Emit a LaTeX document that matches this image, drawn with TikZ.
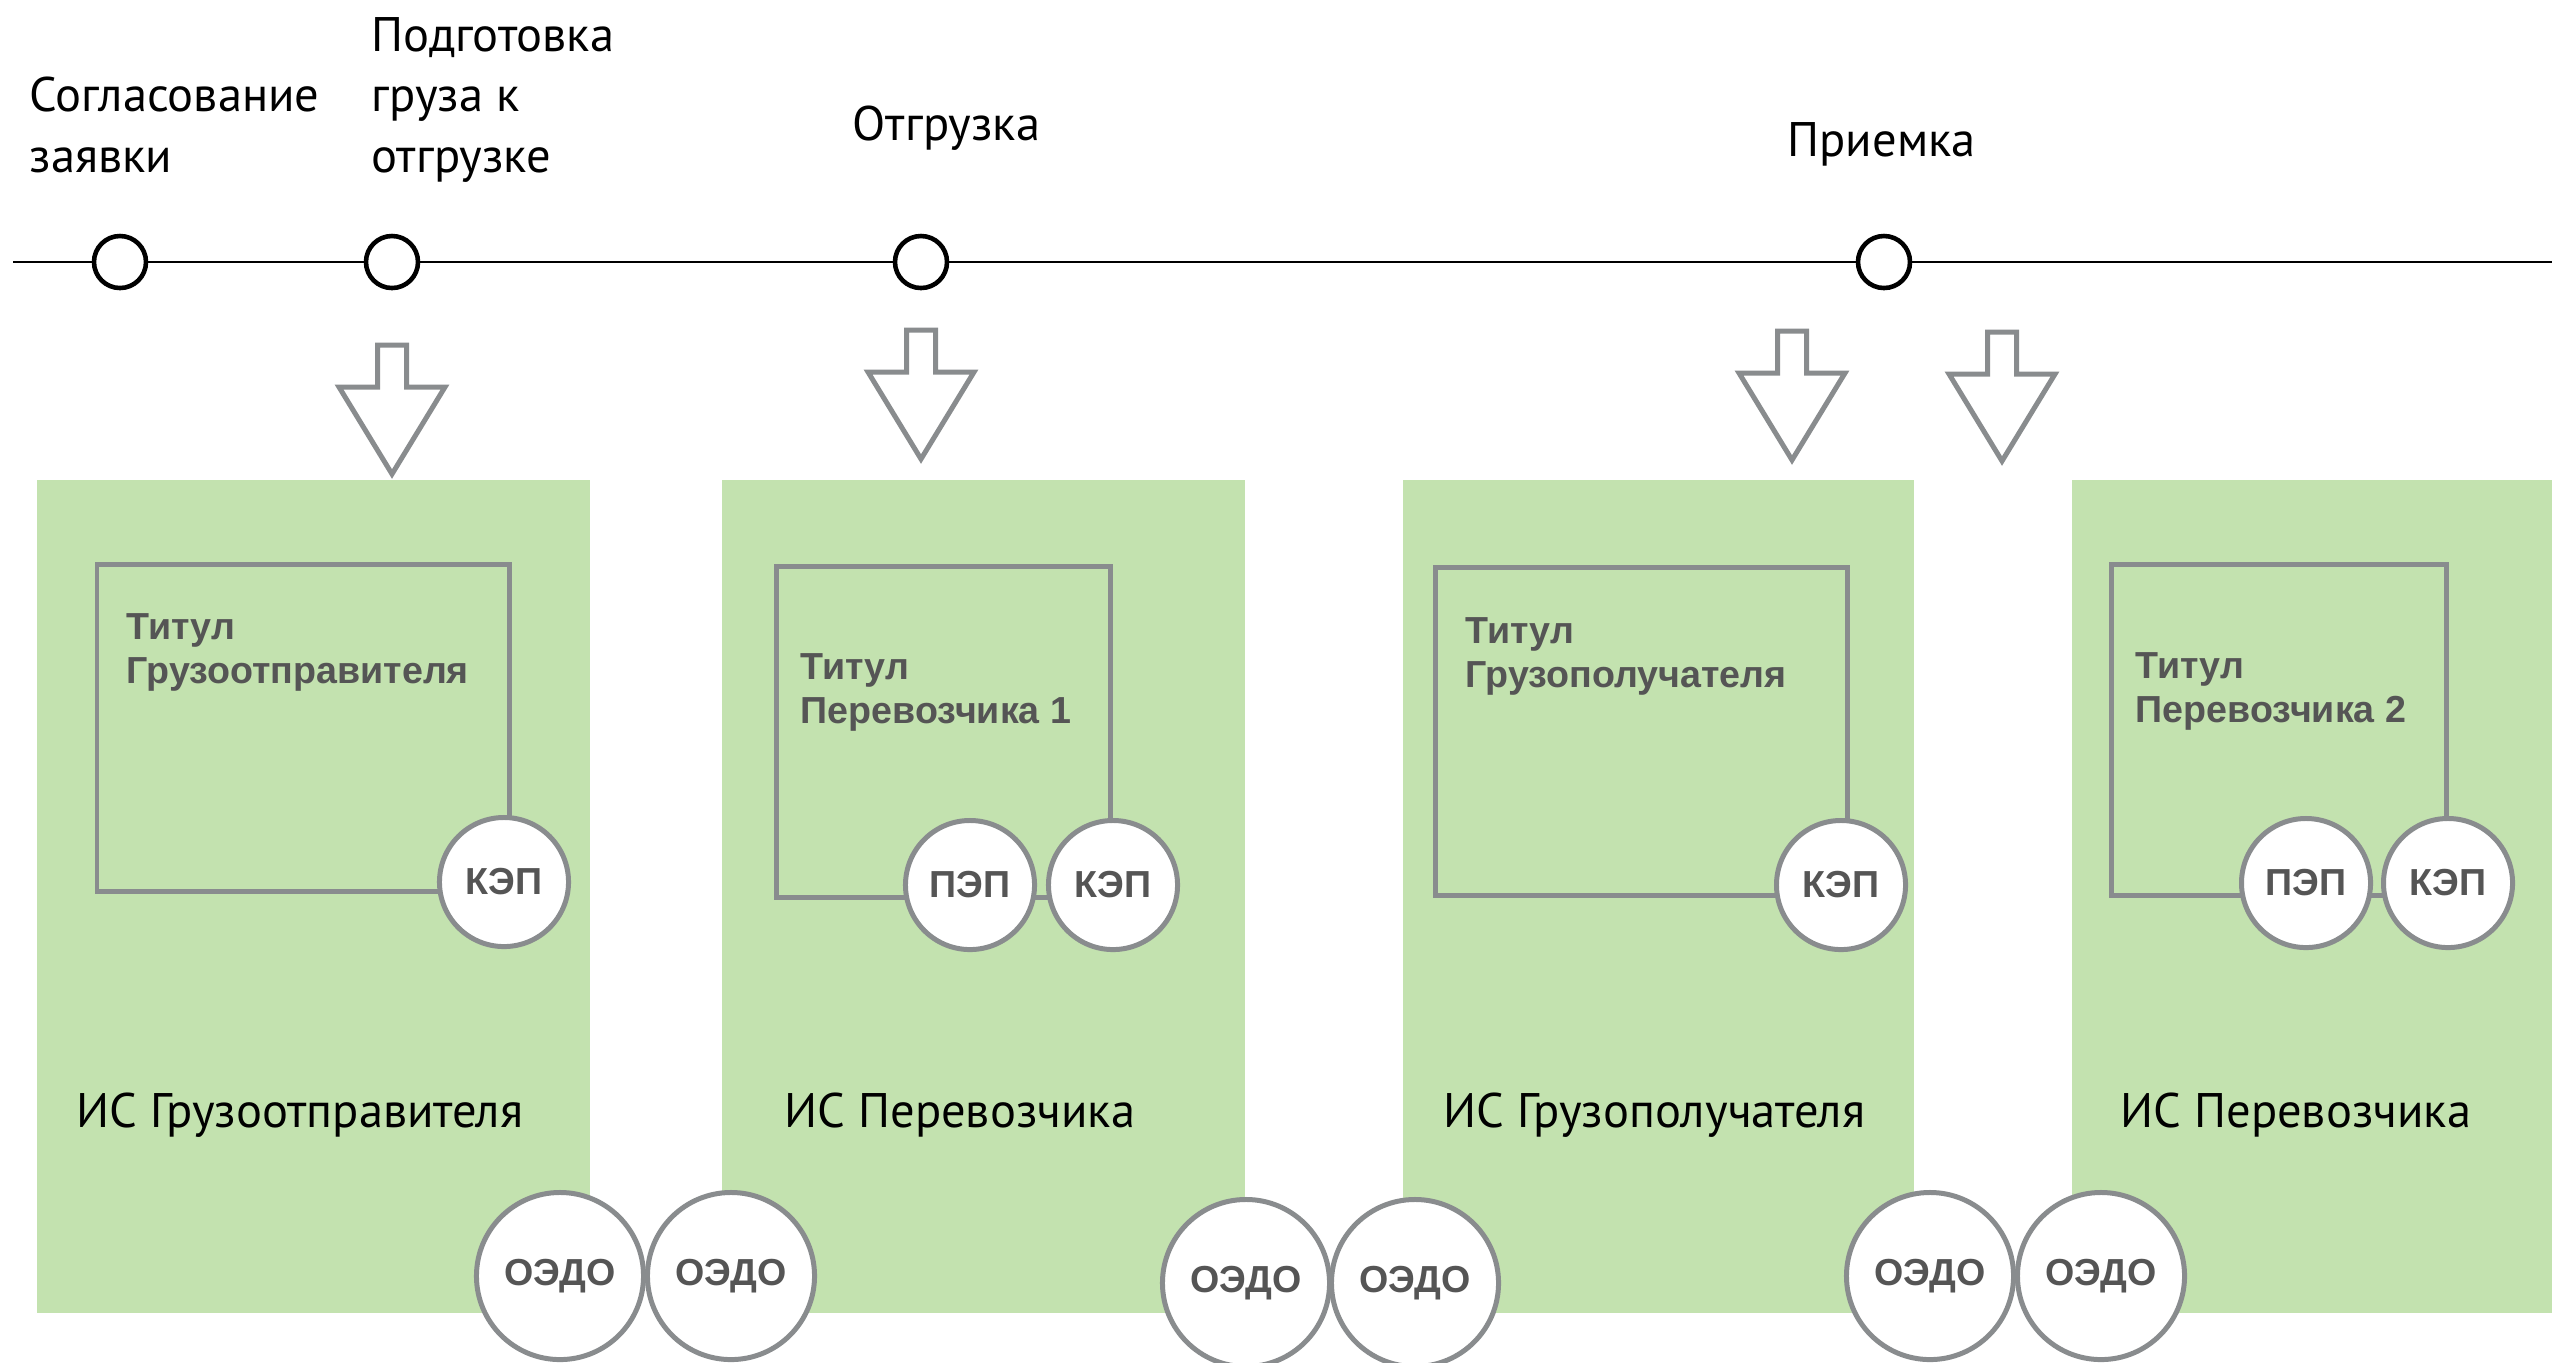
\documentclass[tikz,border=0pt]{standalone}
\usepackage{fontspec}
\setmainfont{PT Sans}
\newfontfamily\tagfont{Liberation Sans}
\usetikzlibrary{positioning}

\definecolor{isgreen}{RGB}{195,226,175}
\definecolor{edgegray}{RGB}{137,140,142}
\definecolor{tagtext}{RGB}{85,85,85}

\tikzset{
  stage/.style={align=left, anchor=base west, inner sep=0pt,
    font=\fontsize{13.8pt}{17.1pt}\selectfont},
  milestone/.style={circle, draw=black, line width=1.3pt, fill=white,
    minimum size=0.52cm, inner sep=0pt},
  isbox/.style={fill=isgreen},
  isname/.style={anchor=base west, inner sep=0pt,
    font=\fontsize{13.8pt}{17.1pt}\selectfont},
  titul/.style={draw=edgegray, line width=1.42pt},
  titulname/.style={align=left, anchor=base west, inner sep=0pt, text=tagtext,
    font=\tagfont\bfseries\fontsize{10.7pt}{12.5pt}\selectfont},
  sign/.style={circle, draw=edgegray, line width=1.42pt, fill=white,
    minimum size=1.29cm, inner sep=0pt, text=tagtext,
    font=\tagfont\bfseries\fontsize{10.7pt}{12.5pt}\selectfont},
  oedo/.style={sign, minimum size=1.67cm},
  pics/handoff/.style={code={
    \draw[edgegray, line width=1.42pt, fill=white, line join=miter]
      (0,0) -- (-53,-87) -- (-14.5,-87) -- (-14.5,-129) -- (14.5,-129)
      -- (14.5,-87) -- (53,-87) -- cycle;
  }},
}

\begin{document}
\begin{tikzpicture}[x=0.01cm, y=-0.01cm]
\useasboundingbox (0,0) rectangle (2552,1362);

% timeline
\coordinate (tl start) at (13,262);
\coordinate (tl end) at (2552,262);
\node[milestone] (agree) at (120,262) {};
\node[milestone] (prepare) at (392,262) {};
\node[milestone] (ship) at (921,262) {};
\node[milestone] (accept) at (1884,262) {};
\draw[line width=0.75pt] (tl start) -- (agree) -- (prepare) -- (ship) -- (accept) -- (tl end);

% labels sit on the baseline of their last line
\node[stage] (agree label) at (29,172) {Согласование\\заявки};
\node[stage] (prepare label) at (371,172) {Подготовка\\груза к\\отгрузке};
\node[stage] (ship label) at (852,140) {Отгрузка};
\node[stage] (accept label) at (1787,156) {Приемка};

% systems
\fill[isbox] (37,480) rectangle (590,1313);
\fill[isbox] (722,480) rectangle (1245,1313);
\fill[isbox] (1403,480) rectangle (1914,1313);
\fill[isbox] (2072,480) rectangle (2552,1313);

\node[isname] (is sender) at (76,1127) {ИС Грузоотправителя};
\node[isname] (is carrier1) at (784,1127) {ИС Перевозчика};
\node[isname] (is receiver) at (1443,1127) {ИС Грузополучателя};
\node[isname] (is carrier2) at (2120,1127) {ИС Перевозчика};

% titles
\draw[titul] (97,564) rectangle (509,891);
\draw[titul] (776,566) rectangle (1110,897);
\draw[titul] (1435,567) rectangle (1847,895);
\draw[titul] (2111,564) rectangle (2446,895);

\node[titulname] (t sender) at (126,683) {Титул\\Грузоотправителя};
\node[titulname] (t carrier1) at (800,723) {Титул\\Перевозчика 1};
\node[titulname] (t receiver) at (1465,687) {Титул\\Грузополучателя};
\node[titulname] (t carrier2) at (2135,722) {Титул\\Перевозчика 2};

\node[sign] (kep sender) at (504,882) {КЭП};
\node[sign] (pep carrier1) at (970,885) {ПЭП};
\node[sign] (kep carrier1) at (1113,885) {КЭП};
\node[sign] (kep receiver) at (1841,885) {КЭП};
\node[sign] (pep carrier2) at (2306,883) {ПЭП};
\node[sign] (kep carrier2) at (2448,883) {КЭП};

% operators
\node[oedo] (oedo 1a) at (560,1276) {ОЭДО};
\node[oedo] (oedo 1b) at (731,1276) {ОЭДО};
\node[oedo] (oedo 2a) at (1246,1283) {ОЭДО};
\node[oedo] (oedo 2b) at (1415,1283) {ОЭДО};
\node[oedo] (oedo 3a) at (1930,1276) {ОЭДО};
\node[oedo] (oedo 3b) at (2101,1276) {ОЭДО};

% hand-over arrows
\pic at (392,474) {handoff};
\pic at (921,459) {handoff};
\pic at (1792,460) {handoff};
\pic at (2002,461) {handoff};
\end{tikzpicture}
\end{document}
